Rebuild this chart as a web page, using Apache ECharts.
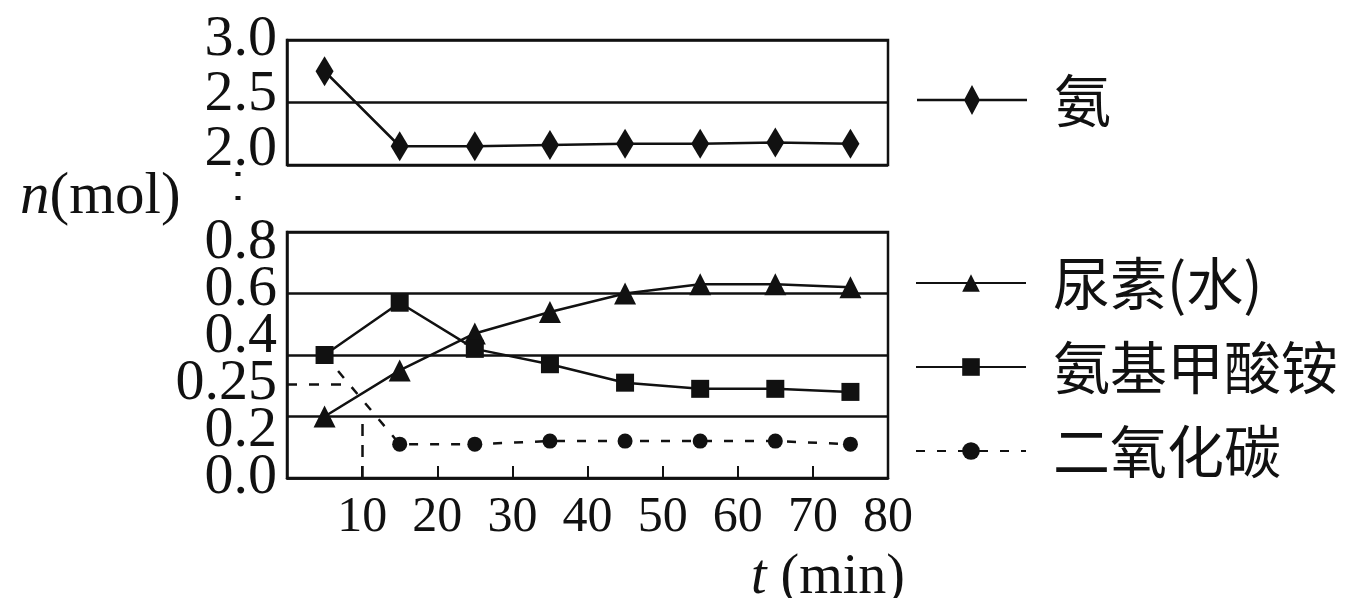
<!DOCTYPE html>
<html><head><meta charset="utf-8">
<script src="https://cdn.jsdelivr.net/npm/echarts@6/dist/echarts.min.js"></script>
<style>html,body{margin:0;padding:0;background:#fff}#c{width:1354px;height:598px}</style>
</head><body><div id="c"></div>
<script>
// ---- data ----
const times = [5, 15, 25, 35, 45, 55, 65, 75];
const ammonia = [2.75, 2.15, 2.15, 2.16, 2.17, 2.17, 2.18, 2.17];
const urea = [0.20, 0.35, 0.47, 0.54, 0.60, 0.63, 0.63, 0.62];
const carbamate = [0.40, 0.57, 0.42, 0.37, 0.31, 0.29, 0.29, 0.28];
const co2 = [0.40, 0.11, 0.11, 0.12, 0.12, 0.12, 0.12, 0.11];
const topTickLabels = ['2.0', '2.5', '3.0'];
const bottomTickLabels = ['0.0', '0.2', '0.25', '0.4', '0.6', '0.8'];
const xTickLabels = [10, 20, 30, 40, 50, 60, 70, 80];
const seriesNames = ['氨', '尿素(水)', '氨基甲酸铵', '二氧化碳'];
const annot025 = { from: 0, to: 7.5, label: '0.25' };
const annotVertical = [[10, 0], [10, 0.2]];

const pair = arr => times.map((t, i) => [t, arr[i]]);
const INK = '#111';
const NUM_FONT = 'Liberation Serif';
const CJK_FONT = 'Noto Sans CJK SC';
const diamondLegend = 'path://M0,13.7 L110,13.7 L110,16.3 L0,16.3 Z M55,0 L63,15 L55,30 L47,15 Z';

const labelAxisStyle = {
  axisLine: { show: false }, axisTick: { show: false }, splitLine: { show: false },
  axisLabel: { color: INK, fontFamily: NUM_FONT, fontSize: 58, margin: 10, interval: 0 }
};
const valueAxisStyle = {
  axisLine: { show: true, lineStyle: { color: INK, width: 2.5 } },
  axisTick: { show: false },
  axisLabel: { show: false },
  splitLine: { show: true, lineStyle: { color: INK, width: 2.5 } }
};
const gridBase = { left: 287, right: 466, outerBoundsMode: 'none', containLabel: false };

const chart = echarts.init(document.getElementById('c'), null, { renderer: 'canvas' });
chart.setOption({
  animation: false,
  backgroundColor: '#fff',
  title: {
    text: '{i|n}(mol)', left: 20, top: 168, padding: 0,
    textStyle: {
      color: INK, fontFamily: NUM_FONT, fontSize: 59, fontWeight: 'normal',
      rich: { i: { fontStyle: 'italic', fontFamily: NUM_FONT, fontSize: 59, color: INK } }
    }
  },
  grid: [
    Object.assign({ top: 40, height: 125, show: true, borderColor: INK, borderWidth: 2.5, backgroundColor: 'transparent' }, gridBase),
    Object.assign({ top: 232, height: 246, show: true, borderColor: INK, borderWidth: 2.5, backgroundColor: 'transparent' }, gridBase),
    Object.assign({ top: 243, height: 235 }, gridBase),
    Object.assign({ top: 40, height: 110 }, gridBase)
  ],
  xAxis: [
    { gridIndex: 0, type: 'value', min: 0, max: 80, interval: 10, show: false },
    {
      gridIndex: 1, type: 'value', min: 0, max: 80, interval: 10,
      axisLine: { show: true, lineStyle: { color: INK, width: 2.5 } },
      axisTick: { show: true, inside: true, length: 12, lineStyle: { color: INK, width: 2 } },
      splitLine: { show: false },
      axisLabel: {
        color: INK, fontFamily: NUM_FONT, fontSize: 50, margin: 15,
        formatter: v => xTickLabels.includes(v) ? String(v) : ''
      },
      name: '{i|t} (min)', nameLocation: 'end', nameGap: 17,
      nameTextStyle: {
        color: INK, fontFamily: NUM_FONT, fontSize: 56, align: 'right', verticalAlign: 'top',
        padding: [72, 0, 0, 0],
        rich: { i: { fontStyle: 'italic', fontFamily: NUM_FONT, fontSize: 56, color: INK } }
      }
    },
    { gridIndex: 2, type: 'value', min: 0, max: 80, show: false },
    { gridIndex: 3, type: 'value', min: 0, max: 80, show: false }
  ],
  yAxis: [
    Object.assign({ gridIndex: 0, type: 'value', min: 2, max: 3, interval: 0.5 }, valueAxisStyle),
    Object.assign({ gridIndex: 1, type: 'value', min: 0, max: 0.8, interval: 0.2 }, valueAxisStyle),
    Object.assign({ gridIndex: 2, type: 'category', data: bottomTickLabels, boundaryGap: false }, labelAxisStyle),
    Object.assign({ gridIndex: 3, type: 'category', data: topTickLabels, boundaryGap: false }, labelAxisStyle)
  ],
  legend: [
    {
      data: [{ name: seriesNames[0], icon: diamondLegend }], left: 917, top: 70, padding: 0,
      itemWidth: 110, itemHeight: 30, selectedMode: false,
      textStyle: { color: INK, fontFamily: CJK_FONT, fontSize: 57, lineHeight: 60, padding: [0, 0, 0, 22] }
    },
    {
      data: seriesNames.slice(1), orient: 'vertical', left: 915, top: 253, padding: 0,
      itemWidth: 110, itemHeight: 22, itemGap: 24, selectedMode: false,
      textStyle: { color: INK, fontFamily: CJK_FONT, fontSize: 57, lineHeight: 60, padding: [0, 0, 0, 22] }
    }
  ],
  graphic: [
    { type: 'line', shape: { x1: 238, y1: 172, x2: 238, y2: 220 }, style: { stroke: INK, lineWidth: 5, lineDash: [4, 20] }, silent: true }
  ],
  series: [
    {
      name: seriesNames[0], type: 'line', xAxisIndex: 0, yAxisIndex: 0, data: pair(ammonia),
      symbol: 'diamond', symbolSize: [18, 30],
      lineStyle: { color: INK, width: 2.5 }, itemStyle: { color: INK }
    },
    {
      name: seriesNames[3], type: 'line', xAxisIndex: 1, yAxisIndex: 1, data: pair(co2),
      symbol: 'circle', symbolSize: 15,
      lineStyle: { color: INK, width: 2.5, type: [9, 12] }, itemStyle: { color: INK },
      markLine: {
        silent: true, symbol: ['none', 'none'], label: { show: false },
        lineStyle: { color: INK, width: 2.5, type: [12, 9] },
        data: [[{ coord: annotVertical[0] }, { coord: annotVertical[1] }]]
      }
    },
    {
      name: seriesNames[1], type: 'line', xAxisIndex: 1, yAxisIndex: 1, data: pair(urea),
      symbol: 'triangle', symbolSize: 22,
      lineStyle: { color: INK, width: 2.5 }, itemStyle: { color: INK }
    },
    {
      name: seriesNames[2], type: 'line', xAxisIndex: 1, yAxisIndex: 1, data: pair(carbamate),
      symbol: 'rect', symbolSize: 18,
      lineStyle: { color: INK, width: 2.5 }, itemStyle: { color: INK }
    },
    {
      name: 'annot', type: 'line', xAxisIndex: 2, yAxisIndex: 2, data: [], silent: true,
      markLine: {
        silent: true, symbol: ['none', 'none'], label: { show: false },
        lineStyle: { color: INK, width: 2.5, type: [10, 12] },
        data: [[{ coord: [annot025.from, bottomTickLabels.indexOf(annot025.label)] }, { coord: [annot025.to, bottomTickLabels.indexOf(annot025.label)] }]]
      }
    }
  ]
});
</script>
</body></html>
